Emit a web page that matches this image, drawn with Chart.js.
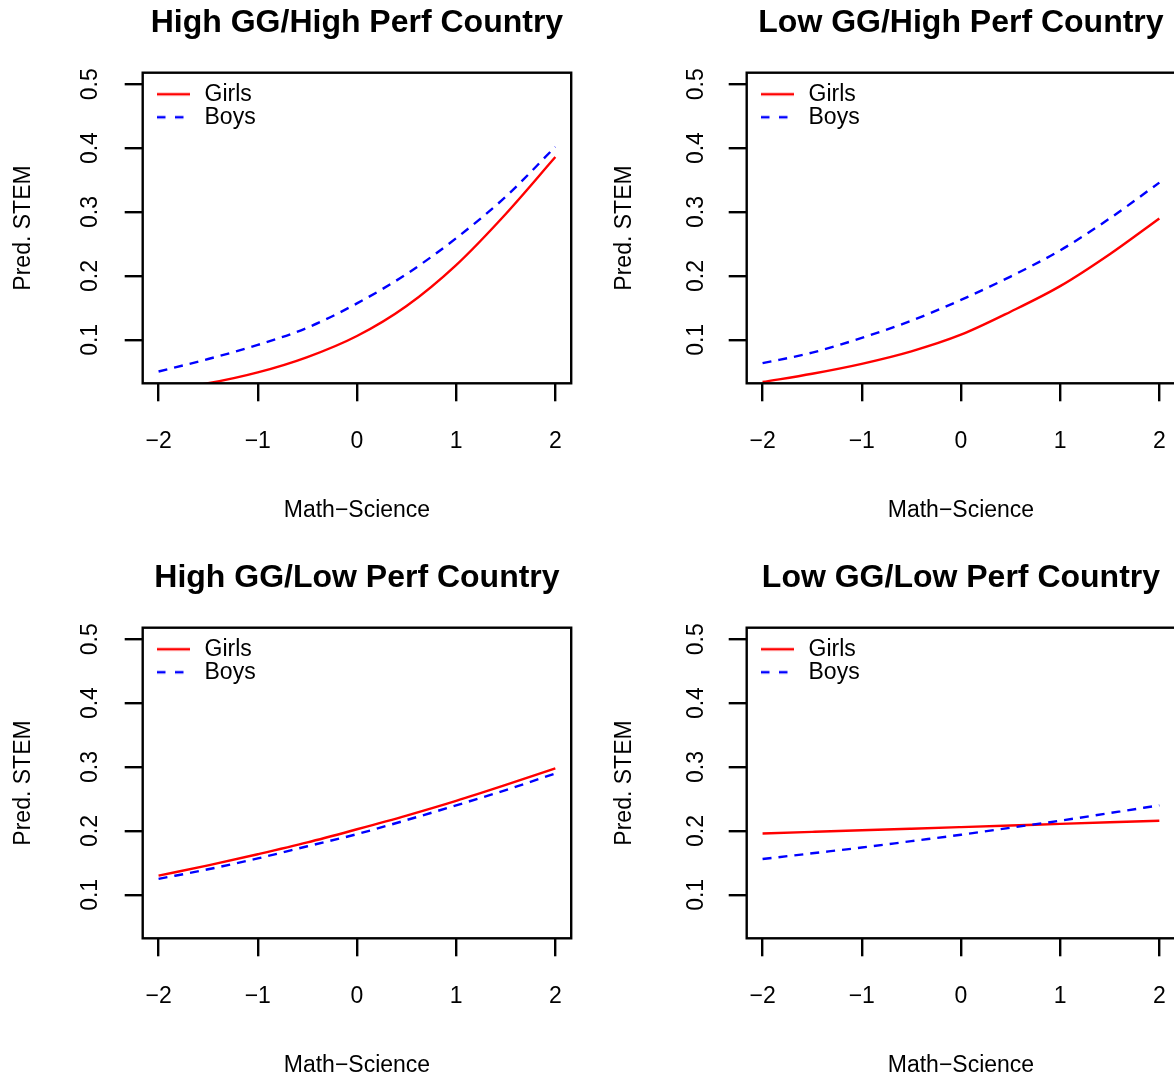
<!DOCTYPE html>
<html><head><meta charset="utf-8">
<script src="https://cdn.jsdelivr.net/npm/chart.js@4/dist/chart.umd.min.js"></script>
<style>
html,body{margin:0;padding:0;background:#fff;}
body{width:1174px;height:1076px;overflow:hidden;position:relative;}
.p{position:absolute;}
canvas{display:block;}
</style></head><body>
<div class="p" style="left:0px;top:0px"><canvas id="c0" width="600" height="530"></canvas></div>
<div class="p" style="left:604px;top:0px"><canvas id="c1" width="600" height="530"></canvas></div>
<div class="p" style="left:0px;top:555px"><canvas id="c2" width="600" height="530"></canvas></div>
<div class="p" style="left:604px;top:555px"><canvas id="c3" width="600" height="530"></canvas></div>
<script>
// ---- data ----
const X_VALUES = [-2, -1.5, -1, -0.5, 0, 0.5, 1, 1.5, 2];
const X_TICKS = [-2, -1, 0, 1, 2];
const X_TICK_LABELS = ['\u22122', '\u22121', '0', '1', '2'];
const Y_TICKS = [0.1, 0.2, 0.3, 0.4, 0.5];
const Y_TICK_LABELS = ['0.1', '0.2', '0.3', '0.4', '0.5'];
const SERIES_NAMES = ['Girls', 'Boys'];
const PANEL_TITLES = ['High GG/High Perf Country', 'Low GG/High Perf Country', 'High GG/Low Perf Country', 'Low GG/Low Perf Country'];
const X_LABEL = 'Math\u2212Science';
const Y_LABEL = 'Pred. STEM';

const GIRLS_HGHP = [0.021, 0.032, 0.049, 0.073, 0.106, 0.153, 0.217, 0.297, 0.386];
const BOYS_HGHP  = [0.0505, 0.070, 0.092, 0.119, 0.157, 0.203, 0.259, 0.324, 0.402];
const GIRLS_LGHP = [0.034, 0.047, 0.0625, 0.082, 0.108, 0.144, 0.184, 0.234, 0.290];
const BOYS_LGHP  = [0.0635, 0.080, 0.103, 0.130, 0.1625, 0.199, 0.240, 0.290, 0.346];
const GIRLS_HGLP = [0.130, 0.146, 0.1635, 0.182, 0.2026, 0.224, 0.247, 0.272, 0.298];
const BOYS_HGLP  = [0.125, 0.140, 0.157, 0.176, 0.195, 0.217, 0.240, 0.264, 0.290];
const GIRLS_LGLP = [0.196, 0.1985, 0.201, 0.2035, 0.206, 0.2085, 0.211, 0.2135, 0.216];
const BOYS_LGLP  = [0.156, 0.165, 0.174, 0.184, 0.194, 0.205, 0.216, 0.228, 0.240];

// ---- styling / layout ----
const FONT = "'Liberation Sans', Arial, Helvetica, sans-serif";
const RED = '#ff0000', BLUE = '#0000ff';
const LINE_W = 2.4, FRAME_W = 2.4;
const DASH = [9, 7];
const LEGEND_DASH = [8.5, 9.5];
const X_MIN = -2.16, X_MAX = 2.16;
const Y_MIN = 0.032, Y_MAX = 0.518;
const AREA_LEFT = 142.7, AREA_RIGHT = 571.2, CANVAS_W = 600, CANVAS_H = 530, AREA_BOTTOM = 383.3;
const COLS = [
  { yTickPad: 17.7, yTitlePad: 9.5 },
  { yTickPad: 15.7, yTitlePad: 6.4 }
];

// legend sample images (line + dash style)
function legendSample(color, dash) {
  const c = document.createElement('canvas');
  c.width = 36; c.height = 6;
  const g = c.getContext('2d');
  g.strokeStyle = color; g.lineWidth = LINE_W; g.setLineDash(dash);
  g.beginPath(); g.moveTo(0, 3); g.lineTo(33, 3); g.stroke();
  return c;
}
const SAMPLE_GIRLS = legendSample(RED, []);
const SAMPLE_BOYS = legendSample(BLUE, LEGEND_DASH);

const boxPlugin = {
  id: 'rbox',
  afterDatasetsDraw(chart) {
    const { ctx, chartArea: a } = chart;
    ctx.save();
    ctx.strokeStyle = '#000';
    ctx.lineWidth = FRAME_W;
    ctx.setLineDash([]);
    ctx.strokeRect(a.left, a.top, a.right - a.left, a.bottom - a.top);
    ctx.restore();
  }
};
const legendPosPlugin = {
  id: 'legendPos',
  afterLayout(chart) {
    const l = chart.legend, a = chart.chartArea;
    if (!l) return;
    const w = l.width, h = l.height;
    l.left = a.left + 14.3;
    l.top = a.top + 10.0;
    l.right = l.left + w;
    l.bottom = l.top + h;
  }
};

function pts(arr) { return X_VALUES.map((x, i) => ({ x: x, y: arr[i] })); }

function makeChart(idx, girls, boys) {
  const col = COLS[idx % 2];
  const font = { family: FONT, size: 23 };
  return new Chart(document.getElementById('c' + idx), {
    type: 'line',
    data: {
      datasets: [
        { label: SERIES_NAMES[0], data: pts(girls), borderColor: RED, backgroundColor: RED, pointStyle: SAMPLE_GIRLS,
          borderWidth: LINE_W, pointRadius: 0, cubicInterpolationMode: 'monotone', fill: false, order: 1, clip: 0 },
        { label: SERIES_NAMES[1], data: pts(boys), borderColor: BLUE, backgroundColor: BLUE, pointStyle: SAMPLE_BOYS,
          borderWidth: LINE_W, borderDash: DASH, pointRadius: 0, cubicInterpolationMode: 'monotone', fill: false, order: 0, clip: 0 }
      ]
    },
    options: {
      responsive: false, animation: false, devicePixelRatio: 1,
      events: [],
      layout: { padding: { left: 0, right: CANVAS_W - AREA_RIGHT, top: 0, bottom: 0 } },
      plugins: {
        title: { display: true, text: PANEL_TITLES[idx], fullSize: false, color: '#000',
          font: { family: FONT, size: 32, weight: 'bold' }, padding: { top: 3.5, bottom: 30.8 } },
        legend: { display: true, position: 'chartArea', align: 'start',
          labels: { usePointStyle: true, pointStyleWidth: 36, color: '#000', font: font, padding: 0,
            sort: (a, b) => a.datasetIndex - b.datasetIndex } },
        tooltip: { enabled: false }
      },
      scales: {
        x: {
          type: 'linear', position: 'bottom', min: X_MIN, max: X_MAX, bounds: 'data',
          afterBuildTicks: s => { s.ticks = X_TICKS.map(v => ({ value: v })); },
          afterFit: s => { s.height = CANVAS_H - AREA_BOTTOM; s.paddingLeft = 0; s.paddingRight = 0; },
          ticks: { autoSkip: false, maxRotation: 0, minRotation: 0, padding: 26.4, color: '#000', font: font,
            callback: (v, i) => X_TICK_LABELS[i] },
          grid: { display: true, drawOnChartArea: false, drawTicks: true, tickLength: 18, color: '#000', lineWidth: FRAME_W },
          border: { display: false },
          title: { display: true, text: X_LABEL, color: '#000', font: font, padding: { top: 0, bottom: 6 } }
        },
        y: {
          type: 'linear', position: 'left', min: Y_MIN, max: Y_MAX, bounds: 'data',
          afterBuildTicks: s => { s.ticks = Y_TICKS.map(v => ({ value: v })); },
          afterFit: s => { s.width = AREA_LEFT; s.paddingTop = 0; s.paddingBottom = 0; },
          ticks: { autoSkip: false, minRotation: 90, maxRotation: 90, crossAlign: 'center', padding: col.yTickPad,
            color: '#000', font: font, callback: (v, i) => Y_TICK_LABELS[i] },
          grid: { display: true, drawOnChartArea: false, drawTicks: true, tickLength: 18, color: '#000', lineWidth: FRAME_W },
          border: { display: false },
          title: { display: true, text: Y_LABEL, color: '#000', font: font, padding: { top: col.yTitlePad, bottom: 0 } }
        }
      }
    },
    plugins: [boxPlugin, legendPosPlugin]
  });
}

makeChart(0, GIRLS_HGHP, BOYS_HGHP);
makeChart(1, GIRLS_LGHP, BOYS_LGHP);
makeChart(2, GIRLS_HGLP, BOYS_HGLP);
makeChart(3, GIRLS_LGLP, BOYS_LGLP);
</script>
</body></html>
